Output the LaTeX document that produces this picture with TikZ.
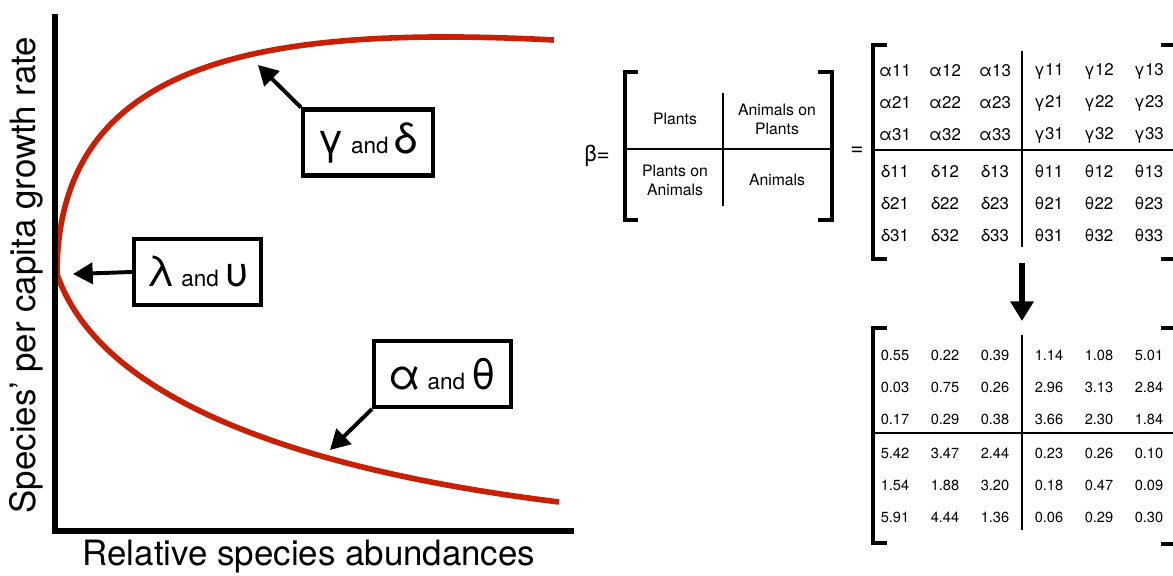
\documentclass[tikz,border=0pt]{standalone}
\usepackage{fontspec}
\setmainfont{TeX Gyre Heros}
\usetikzlibrary{arrows.meta}
\definecolor{curvered}{RGB}{200,32,4}
\newcommand{\gk}{\fontsize{30}{32}\selectfont}
\newcommand{\sand}{\fontsize{16}{18}\selectfont}
\tikzset{
  axis/.style={line width=3.6pt, line join=miter},
  growth/.style={line width=4pt, curvered},
  lblbox/.style={draw, line width=2.9pt, minimum height=1.65cm, inner sep=2pt, font=\sand},
  pointer/.style={line width=2.8pt, -{Triangle[length=14pt,width=15pt]}},
  brack/.style={line width=2.2pt},
  divide/.style={line width=1.7pt},
  entry/.style={font=\fontsize{12}{14}\selectfont, inner sep=0pt},
  val/.style={font=\fontsize{10.4}{12}\selectfont, inner sep=0pt},
  block/.style={font=\fontsize{11.2}{13.5}\selectfont, align=center, inner sep=0pt},
  axlabel/.style={font=\fontsize{24.8}{28}\selectfont, inner sep=0pt},
}

\begin{document}
\begin{tikzpicture}[x=0.025cm, y=-0.025cm]
\useasboundingbox (0,0) rectangle (1173,576);

% growth curve
\coordinate (ctop) at (554,40);
\coordinate (vtx) at (57,274);
\coordinate (cbot) at (559,502);
\draw[growth] (ctop) .. controls (260,25) and (57,60) .. (vtx)
  .. controls (100,400) and (300,470) .. (cbot);

% axes
\coordinate (ytop) at (55,14);
\coordinate (orig) at (55,531);
\coordinate (xend) at (574,531);
\draw[axis] (ytop) -- (orig) -- (xend);
\node[axlabel] (xlab) at (309,557) {Relative species abundances};
\node[axlabel, rotate=90] (ylab) at (26,275) {Species’ per capita growth rate};

% parameter boxes
\node[lblbox, minimum width=3.175cm] (lamb) at (197.5,272) {{\gk λ} and {\gk υ}};
\coordinate (lamtip) at (73,274);
\draw[pointer] (lamb.west) -- (lamtip);

\node[lblbox, minimum width=3.25cm] (gd) at (368,142.5) {{\gk γ} and {\gk δ}};
\coordinate (gdtip) at (258,65);
\draw[pointer] (gd.north west) -- (gdtip);

\node[lblbox, minimum width=3.425cm] (at) at (442.5,374) {{\gk α} and {\gk θ}};
\coordinate (attip) at (330,450);
\draw[pointer] (at.south west) -- (attip);

% beta blocks
\node[font=\fontsize{16}{18}\selectfont] (beta) at (597,156) {β=};
\draw[brack] (638,72) -| (625,220) -- (638,220);
\draw[brack] (818,72) -| (832,220) -- (818,220);
\draw[divide] (625,149) -- (832,149);
\draw[divide] (723,93) -- (723,206);
\node[block] (pl) at (675,119) {Plants};
\node[block] (ap) at (777,119) {Animals on\\Plants};
\node[block] (pa) at (675,180) {Plants on\\Animals};
\node[block] (an) at (777,180) {Animals};
\node[font=\fontsize{16}{18}\selectfont] (eq) at (857,151) {=};

% symbolic matrix
\draw[brack] (887,45) -| (873,259) -- (887,259);
\draw[brack] (1161,45) -| (1176,259) -- (1161,259);
\draw[divide] (873,150) -- (1173,150);
\draw[divide] (1022,51) -- (1022,247);
\foreach \g/\n/\dc/\dr in {α/a/0/0, γ/g/3/0, δ/d/0/3, θ/t/3/3}
  \foreach \i in {1,2,3}
    \foreach \j in {1,2,3}
      \node[entry] (\n\i\j) at ({895+50*(\j+\dc-1)+4*(\dc>0)}, {71+32*(\i+\dr-1)+4*(\dr>0)}) {\g\i\j};

% arrow down
\coordinate (gbase) at (1022,263);
\coordinate (vtop) at (1022,321);
\draw[line width=4pt, -{Triangle[length=14pt,width=16pt]}] (gbase) -- (vtop);

% numeric matrix
\draw[brack] (887,328) -| (873,543) -- (887,543);
\draw[brack] (1161,328) -| (1176,544) -- (1161,544);
\draw[divide] (873,433) -- (1173,433);
\draw[divide] (1022,335) -- (1022,530);
\foreach \vals [count=\r] in {{0.55,0.22,0.39,1.14,1.08,5.01},
    {0.03,0.75,0.26,2.96,3.13,2.84},
    {0.17,0.29,0.38,3.66,2.30,1.84},
    {5.42,3.47,2.44,0.23,0.26,0.10},
    {1.54,1.88,3.20,0.18,0.47,0.09},
    {5.91,4.44,1.36,0.06,0.29,0.30}}
  \foreach \v [count=\c] in \vals
    \node[val] (v\r\c) at ({895+50*(\c-1)+4*(\c>3)}, {355+32*(\r-1)+2*(\r>3)}) {\v};
\end{tikzpicture}
\end{document}
